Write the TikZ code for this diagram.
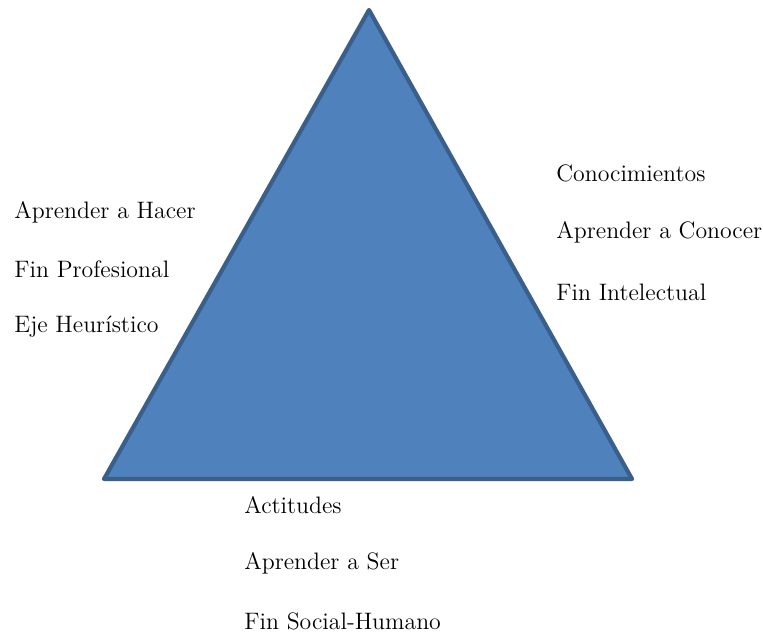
\documentclass[tikz,border=0pt]{standalone}
\usepackage{xcolor}
\usetikzlibrary{positioning}
\definecolor{pyrfill}{HTML}{4F81BD}
\definecolor{pyredge}{HTML}{3A5F8B}

\begin{document}
\begin{tikzpicture}[x=0.5pt,y=-0.5pt]
    \useasboundingbox (0,0) rectangle (763,636);
    \tikzstyle{txt} = [draw=none, anchor=west, inner sep=0pt, font=\fontsize{11.9}{15}\selectfont];
    \tikzstyle{pyramid} = [fill=pyrfill, draw=pyredge, line width=2.1pt, line join=round];
    \coordinate (apex) at (369,10);
    \coordinate (left) at (104,479);
    \coordinate (right) at (632,479);
    \path[pyramid] (apex) -- (right) -- (left) -- cycle;
    % left side
    \node[txt] at (14,212) (hacer) {Aprender a Hacer};
    \node[txt] at (14,269) (profesional) {Fin Profesional};
    \node[txt] at (14,327) (heuristico) {Eje Heurístico};
    % right side
    \node[txt] at (556,173) (conocimientos) {Conocimientos};
    \node[txt] at (556,232) (conocer) {Aprender a Conocer};
    \node[txt] at (556,292) (intelectual) {Fin Intelectual};
    % bottom
    \node[txt] at (244,505) (actitudes) {Actitudes};
    \node[txt] at (244,563) (ser) {Aprender a Ser};
    \node[txt] at (244,621) (social) {Fin Social-Humano};
\end{tikzpicture}
\end{document}
